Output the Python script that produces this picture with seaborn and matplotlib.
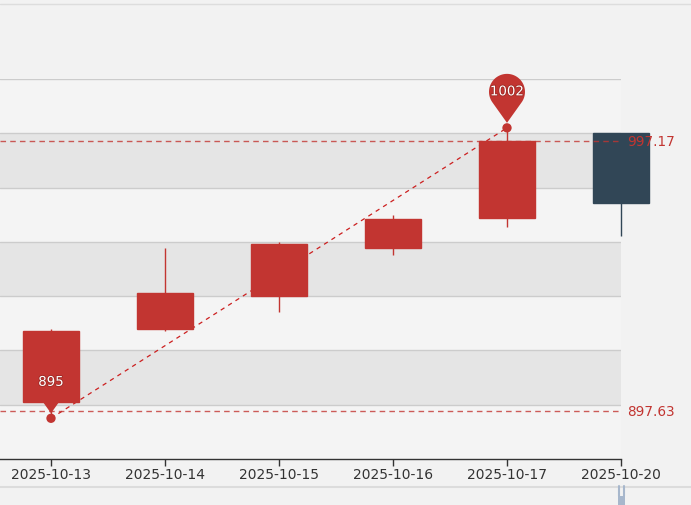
import numpy as np
import pandas as pd
import matplotlib
matplotlib.use("Agg")
import matplotlib.pyplot as plt
import matplotlib.patheffects as pe
from matplotlib.path import Path
from matplotlib.patches import PathPatch, Rectangle
from matplotlib.lines import Line2D
from matplotlib import transforms
import seaborn as sns

# data
dates = ["2025-10-13", "2025-10-14", "2025-10-15", "2025-10-16", "2025-10-17", "2025-10-20"]
open_ = [901.0, 928.0, 940.1, 957.9, 968.9, 1000.2]
close = [927.2, 941.2, 959.2, 968.4, 997.17, 974.2]
low = [895.0, 927.3, 934.2, 955.3, 965.4, 962.3]
high = [927.9, 957.7, 960.0, 970.0, 1002.0, 1000.2]
mark_lines = [997.17, 897.63]

df = pd.DataFrame({"date": dates, "open": open_, "close": close, "low": low, "high": high})
df["i"] = np.arange(len(df))

UP = "#c23531"
DOWN = "#314656"
BG = "#f2f2f2"

sns.set_style("white")
plt.rcParams["font.family"] = ["DejaVu Sans"]

fig = plt.figure(figsize=(6.91, 5.06), dpi=100, facecolor=BG)
W, H = 691, 506
ax = fig.add_axes([0, 1 - 460 / H, 621 / W, (460 - 80) / H])
ax.set_facecolor(BG)

ymin, ymax = 880, 1020
ax.set_ylim(ymin, ymax)
ax.set_xlim(-51 / 114, len(dates) - 1)

# split areas + grid
for k, y0 in enumerate(range(ymin, ymax, 20)):
    col = "#f4f4f4" if k % 2 == 0 else "#e5e5e5"
    ax.axhspan(y0, y0 + 20, color=col, lw=0, zorder=0)
for y in range(ymin + 20, ymax + 1, 20):
    ax.axhline(y, color="#cccccc", lw=1, zorder=1)

# min/max points and the line joining them (drawn under the candles)
imin = int(df["low"].idxmin())
imax = int(df["high"].idxmax())
pts = pd.DataFrame({"x": [imin, imax], "y": [df["low"][imin], df["high"][imax]]})
sns.lineplot(data=pts, x="x", y="y", ax=ax, color="#cc1f1f", lw=0.9,
             linestyle=(0, (3.5, 3.5)), zorder=2)

# candles
bw = 0.49
for _, r in df.iterrows():
    up = r["close"] >= r["open"]
    c = UP if up else DOWN
    ax.vlines(r["i"], r["low"], r["high"], color=c, lw=1, zorder=3, clip_on=False)
    ax.bar(r["i"], abs(r["close"] - r["open"]), bottom=min(r["open"], r["close"]),
           width=bw, color=c, edgecolor=c, lw=1, zorder=4, clip_on=False)

# horizontal mark lines
for v in mark_lines:
    ax.axhline(v, color=UP, lw=1, ls=(0, (4, 3)), alpha=0.8, zorder=5)
    ax.text(1.01, v, f"{v:.2f}", transform=ax.get_yaxis_transform(), color=UP,
            fontsize=9.8, va="center", ha="left", clip_on=False, zorder=11)

sns.scatterplot(data=pts, x="x", y="y", ax=ax, color=UP, s=45, edgecolor="none",
                zorder=8, clip_on=False)


def pin_path(r=18.0, cy=36.0, tip=5.0):
    d = cy - tip
    phi = np.degrees(np.arccos(r / d))
    ang = np.radians(np.linspace(-90 + phi, 270 - phi, 60))
    xs = r * np.cos(ang)
    ys = cy + r * np.sin(ang)
    verts = list(zip(xs, ys)) + [(0, tip), (xs[0], ys[0])]
    return Path(verts, closed=True)


for x, y in zip(pts["x"], pts["y"]):
    tr = transforms.IdentityTransform() + transforms.ScaledTranslation(x, y, ax.transData)
    ax.add_patch(PathPatch(pin_path(), transform=tr, facecolor=UP, edgecolor="none",
                           zorder=9, clip_on=False))
    ax.text(0, 36, f"{y:.0f}", transform=tr, color="white", fontsize=9.6,
            ha="center", va="center", zorder=10, clip_on=False,
            path_effects=[pe.withStroke(linewidth=1.2, foreground="#9e2a26")])

# axes styling
ax.set_xticks(df["i"])
ax.set_xticklabels(dates)
ax.set_yticks([])
ax.set_xlabel("")
ax.set_ylabel("")
for s in ["top", "right", "left"]:
    ax.spines[s].set_visible(False)
ax.spines["bottom"].set_color("#333333")
ax.spines["bottom"].set_linewidth(1)
ax.tick_params(axis="x", direction="out", length=5, width=1, color="#333333",
               labelcolor="#333333", labelsize=10, pad=1, bottom=True)
for lbl in ax.get_xticklabels():
    lbl.set_clip_on(False)

# frame decorations (toolbox line on top, data zoom slider at bottom)
fig.add_artist(Line2D([0, 1], [1 - 4.5 / H] * 2, color="#dddddd", lw=1))
fig.add_artist(Line2D([0, 1], [1 - 487.5 / H] * 2, color="#dcdcdc", lw=1.5))
hx = 621 / W
fig.add_artist(Rectangle((hx - 3.5 / W, 0), 7 / W, 9 / H, color="#a7b7cc", lw=0))
for dx in (-2.5, 2.5):
    fig.add_artist(Line2D([hx + dx / W] * 2, [9 / H, 19 / H], color="#a7b7cc", lw=1.5))

fig.savefig("out.png", dpi=100, facecolor=BG)
